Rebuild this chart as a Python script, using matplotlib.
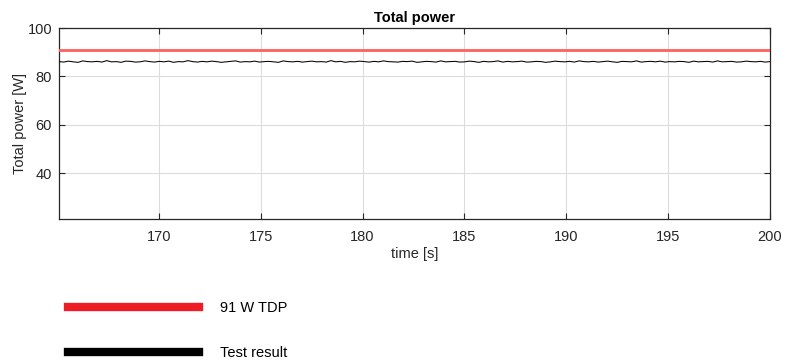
import numpy as np
import matplotlib.pyplot as plt
from matplotlib.lines import Line2D

# TDP limit and measured total power (W)
tdp = 91
t_start, t_end = 165.1, 200.0
power = [86.1, 85.9, 86.3, 86.0, 85.8, 86.4, 86.1, 86.0, 86.2, 85.9,
         86.5, 86.0, 86.1, 85.8, 86.3, 86.2, 85.9, 86.0, 86.4, 86.1,
         85.9, 86.2, 86.0, 86.3, 85.8, 86.1, 86.0, 86.5, 86.1, 85.9,
         86.2, 86.0, 86.3, 86.1, 85.8, 86.0, 86.2, 86.4, 85.9, 86.1,
         86.0, 86.3, 85.9, 86.1, 86.2, 86.0, 85.8, 86.4, 86.1, 86.0,
         86.2, 85.9, 86.1, 86.3, 86.0, 86.1, 85.9, 86.5, 86.0, 86.2,
         85.8, 86.1, 86.0, 86.3, 86.1, 85.9, 86.2, 86.0, 86.4, 86.1,
         86.0, 85.9, 86.2, 86.1, 86.3, 85.8, 86.0, 86.2, 86.1, 85.9,
         86.4, 86.0, 86.1, 86.2, 85.9, 86.0, 86.3, 86.1, 85.8, 86.2,
         86.0, 86.1, 86.4, 85.9, 86.2, 86.0, 86.1, 86.3, 85.9, 86.0,
         86.2, 86.1, 85.8, 86.0, 86.3, 86.1, 86.0, 86.2, 85.9, 86.4,
         86.1, 86.0, 86.2, 85.9, 86.1, 86.3, 86.0, 85.8, 86.2, 86.1,
         86.0, 86.4, 85.9, 86.1, 86.2, 86.0, 86.3, 85.9, 86.1, 86.0,
         86.2, 86.1, 85.8, 86.3, 86.0, 86.1, 86.2, 85.9, 86.4, 86.0,
         86.1, 86.2, 85.9, 86.0, 86.3, 86.1, 86.0, 86.2, 85.9, 86.1]
t = np.linspace(t_start, t_end, len(power))

plt.rcParams['font.family'] = ['Liberation Sans', 'DejaVu Sans']

fig = plt.figure(figsize=(7.86, 3.63), dpi=100)
ax = fig.add_axes([59 / 786, 1 - 219 / 363, 711 / 786, 191 / 363])

ax.plot([t_start, t_end], [tdp, tdp], color='#ff6060', lw=2.0, zorder=3)
ax.plot(t, power, color='black', lw=0.75, zorder=4)

ax.set_xlim(t_start, t_end)
ax.set_ylim(21, 100)
ax.set_xticks([170, 175, 180, 185, 190, 195, 200])
ax.set_yticks([40, 60, 80, 100])
ax.grid(True, color='#dcdcdc', lw=0.8)
ax.set_axisbelow(True)
ax.tick_params(direction='in', top=True, right=True, labelsize=10.5,
               colors='#262626', length=4)
ax.tick_params(axis='x', pad=8)
ax.tick_params(axis='y', pad=5)
for s in ax.spines.values():
    s.set_color('#262626')
    s.set_linewidth(0.9)

ax.set_title('Total power', fontsize=10.5, fontweight='bold', pad=4)
ax.set_xlabel('time [s]', fontsize=10.5, color='#262626', labelpad=2)
ax.set_ylabel('Total power [W]', fontsize=10.5, color='#262626', labelpad=0)

handles = [Line2D([], [], color='#ee1c25', lw=6),
           Line2D([], [], color='black', lw=6)]
fig.legend(handles, ['91 W TDP', 'Test result'], loc='upper left',
           bbox_to_anchor=(55 / 786, 1 - 288 / 363), frameon=False,
           fontsize=10.5, handlelength=9.0, handletextpad=1.4,
           labelspacing=2.1)

fig.savefig('out.png', dpi=100)
